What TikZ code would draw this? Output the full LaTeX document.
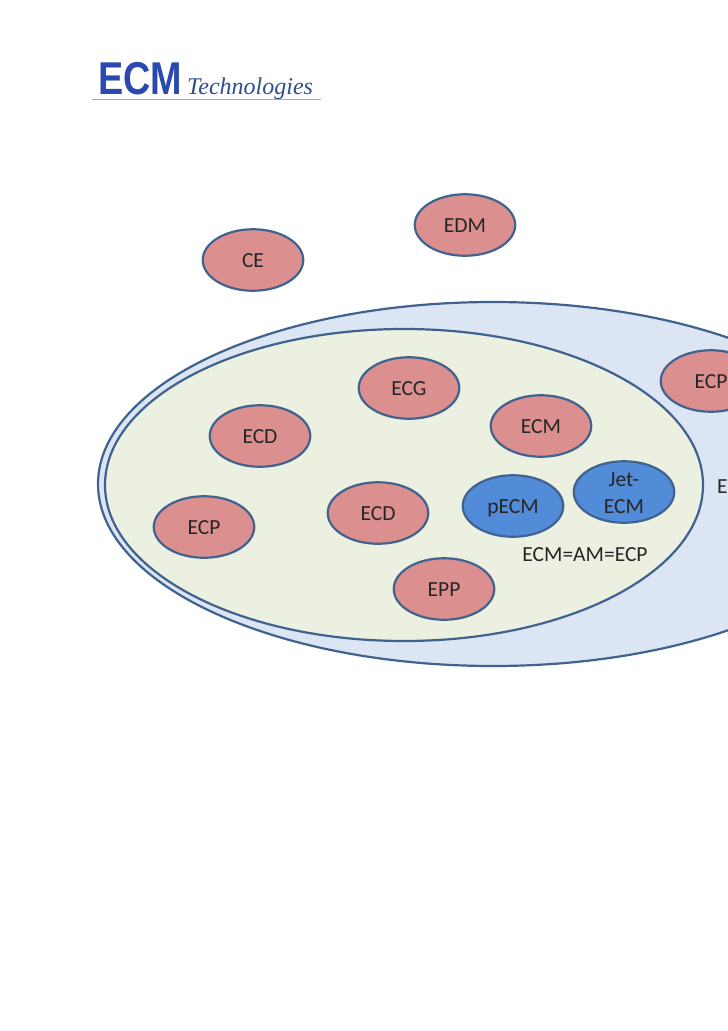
\documentclass[tikz,border=0pt]{standalone}
\usepackage{fontspec}
\setmainfont{Carlito}
\newfontfamily\logosans{Liberation Sans}
\newfontfamily\logoscript{Liberation Serif}
\usetikzlibrary{shapes.geometric}
\definecolor{edgeblue}{HTML}{3F628F}
\definecolor{outerfill}{HTML}{DCE5F3}
\definecolor{innerfill}{HTML}{EBF0E0}
\definecolor{rosefill}{HTML}{DB8F8F}
\definecolor{bluefill}{HTML}{528BD8}
\definecolor{logoblue}{HTML}{2A48B0}
\definecolor{logoline}{HTML}{A8A8A8}
\definecolor{logoscriptc}{HTML}{2F4E8C}
\tikzset{
  blob/.style={ellipse,draw=edgeblue,line width=2.2pt,minimum width=100.5pt,minimum height=61.5pt,inner sep=0pt,align=center,text height=15pt,text depth=0pt,font=\fontsize{21.5}{27}\selectfont,text=black!85},
  rose/.style={blob,fill=rosefill},
  azure/.style={blob,fill=bluefill},
  region/.style={draw=edgeblue,line width=2.2pt},
  plain/.style={font=\fontsize{21.5}{27}\selectfont,text=black!85,inner sep=0pt}
}
\begin{document}
\begin{tikzpicture}[x=1pt,y=-1pt]
\useasboundingbox (0,0) rectangle (728,1031);
\clip (0,0) rectangle (728,1031);
\fill[white] (0,0) rectangle (728,1031);
\draw[region,fill=outerfill] (493,484) ellipse [x radius=395,y radius=182];
\draw[region,fill=innerfill] (404,485) ellipse [x radius=299,y radius=156];
\node[rose] (ce) at (253,260) {CE};
\node[rose] (edm) at (465,225) {EDM};
\node[rose] (ecg) at (409,388) {ECG};
\node[rose] (ecda) at (260,436) {ECD};
\node[rose] (ecm) at (541,426) {ECM};
\node[rose] (ecpa) at (204,527) {ECP};
\node[rose] (ecdb) at (378,513) {ECD};
\node[rose] (epp) at (444,589) {EPP};
\node[rose] (ecpb) at (711,381) {ECP};
\node[azure] (pecm) at (513,506) {pECM};
\node[azure,text height=43pt,text depth=0pt] (jet) at (624,492) {Jet-\\ECM};
\node[plain] (eq) at (585,555) {ECM=AM=ECP};
\node[plain,anchor=west] (cut) at (717,487) {E};
\node[inner sep=0pt,anchor=base west,text=logoblue,xscale=0.82] (logoa) at (98,94) {\logosans\bfseries\fontsize{46}{46}\selectfont ECM};
\node[inner sep=0pt,anchor=base west,text=logoscriptc] (logob) at (187,94) {\logoscript\itshape\fontsize{24}{24}\selectfont Technologies};
\draw[logoline,line width=1.8pt] (92,99.5) -- (321,99.5);
\end{tikzpicture}
\end{document}
